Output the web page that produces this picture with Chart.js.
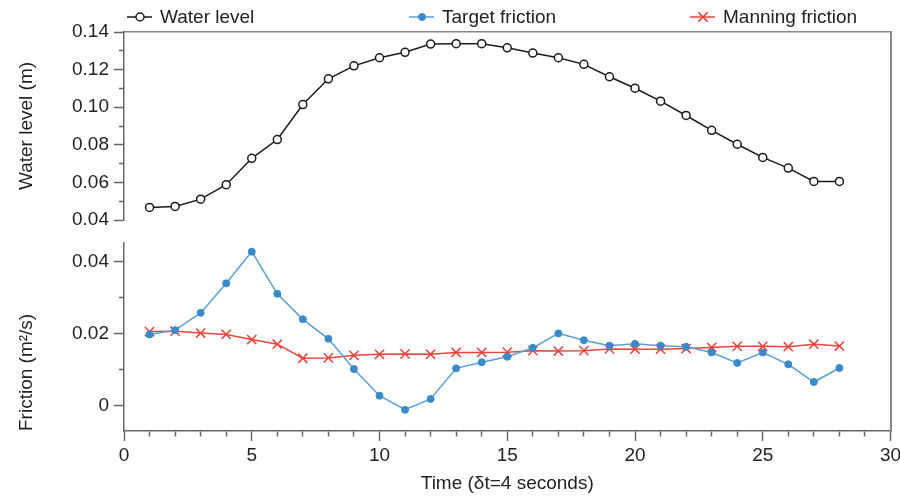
<!DOCTYPE html>
<html><head><meta charset="utf-8">
<script src="https://cdn.jsdelivr.net/npm/chart.js@4/dist/chart.umd.min.js"></script>
<style>html,body{margin:0;padding:0;background:#fff;}#wrap{width:900px;height:496px;position:relative;}</style>
</head><body><div id="wrap"><canvas id="c"></canvas></div>
<script>
const timeSteps = [1,2,3,4,5,6,7,8,9,10,11,12,13,14,15,16,17,18,19,20,21,22,23,24,25,26,27,28];
const waterLevel = [0.0467,0.0472,0.0511,0.0588,0.0728,0.0828,0.1014,0.1151,0.1220,0.1263,0.1292,0.1336,0.1338,0.1338,0.1316,0.1288,0.1263,0.1228,0.1162,0.1101,0.1032,0.0956,0.0877,0.0803,0.0733,0.0676,0.0605,0.0605];
const targetFriction = [0.0198,0.0210,0.0258,0.0340,0.0428,0.0311,0.0240,0.0186,0.0102,0.0028,-0.0011,0.0019,0.0104,0.0121,0.0136,0.0161,0.0201,0.0182,0.0167,0.0172,0.0167,0.0164,0.0148,0.0119,0.0148,0.0115,0.0066,0.0105];
const manningFriction = [0.0206,0.0207,0.0202,0.0198,0.0184,0.0171,0.0132,0.0133,0.0140,0.0143,0.0144,0.0143,0.0148,0.0148,0.0149,0.0153,0.0152,0.0153,0.0158,0.0157,0.0157,0.0159,0.0162,0.0165,0.0165,0.0164,0.0171,0.0166];
const seriesNames = ['Water level','Target friction','Manning friction'];
const waterTickValues = [0.04,0.05,0.06,0.07,0.08,0.09,0.10,0.11,0.12,0.13,0.14];
const waterTickLabels = ['0.04','','0.06','','0.08','','0.10','','0.12','','0.14'];
const frictionTickValues = [0,0.01,0.02,0.03,0.04];
const frictionTickLabels = ['0','','0.02','','0.04'];
const timeRange = [0, 30];
const waterRange = [0.04, 0.14];
const frictionRange = [-0.007, 0.0452];
const axisTitles = {x: 'Time (δt=4 seconds)', water: 'Water level (m)', friction: 'Friction (m²/s)'};

const FONT = '"Liberation Sans", Arial, Helvetica, sans-serif';
Chart.defaults.font.family = FONT;
Chart.defaults.font.size = 19;
Chart.defaults.color = '#222';
const AX = '#666';

const xy = (arr) => timeSteps.map((t, i) => ({x: t, y: arr[i]}));

function leftAxis(range, values, labels, title, weight, titleAlign) {
  return {
    type: 'linear', position: 'left', stack: 'panels', stackWeight: weight,
    min: range[0], max: range[1],
    afterBuildTicks: (s) => { s.ticks = values.map(v => ({value: v})); },
    afterFit: (s) => { s.width = 124; s.paddingTop = 0; s.paddingBottom = 0; },
    ticks: {padding: 5, autoSkip: false, callback: (v, i) => labels[i], color: '#222'},
    grid: {display: true, drawOnChartArea: false, tickLength: 10, tickColor: AX, tickWidth: 1.5,
      tickBorderDash: (c) => (labels[c.index] === '' ? [5, 5] : []),
      tickBorderDashOffset: (c) => (labels[c.index] === '' ? 5 : 0)},
    border: {display: true, color: AX, width: 1.5},
    title: {display: true, text: title, align: titleAlign, padding: {top: 15, bottom: 0}, color: '#222'}
  };
}

const rowLegend = {
  id: 'rowLegend',
  afterDraw(chart) {
    const ctx = chart.ctx;
    const xs = [127, 409, 690];
    const y = 17;
    ctx.save();
    chart.data.datasets.forEach((ds, i) => {
      const x = xs[i];
      ctx.strokeStyle = ds.borderColor;
      ctx.lineWidth = 1.5;
      ctx.setLineDash([]);
      ctx.beginPath(); ctx.moveTo(x, y); ctx.lineTo(x + 25, y); ctx.stroke();
      ctx.fillStyle = ds.pointBackgroundColor;
      ctx.strokeStyle = ds.pointBorderColor;
      ctx.lineWidth = ds.pointBorderWidth;
      Chart.helpers.drawPoint(ctx, {pointStyle: ds.pointStyle, radius: ds.pointRadius, rotation: 0, borderWidth: ds.pointBorderWidth}, x + 13, y);
      ctx.fillStyle = '#222';
      ctx.font = '19px ' + FONT;
      ctx.textBaseline = 'middle';
      ctx.textAlign = 'left';
      ctx.fillText(ds.label, x + 33, y + 1);
    });
    ctx.restore();
  }
};

new Chart(document.getElementById('c'), {
  type: 'line',
  data: {
    datasets: [
      {label: seriesNames[0], data: xy(waterLevel), yAxisID: 'yW', xAxisID: 'x',
        borderColor: '#1a1a1a', borderWidth: 1.5, pointStyle: 'circle', pointRadius: 4,
        pointBackgroundColor: '#fff', pointBorderColor: '#1a1a1a', pointBorderWidth: 1.5, tension: 0},
      {label: seriesNames[1], data: xy(targetFriction), yAxisID: 'yF', xAxisID: 'x',
        borderColor: '#5a9fd4', borderWidth: 1.5, pointStyle: 'circle', pointRadius: 3.5,
        pointBackgroundColor: '#3a8ac8', pointBorderColor: '#3a8ac8', pointBorderWidth: 1, tension: 0},
      {label: seriesNames[2], data: xy(manningFriction), yAxisID: 'yF', xAxisID: 'x',
        borderColor: '#e8443c', borderWidth: 1.5, pointStyle: 'crossRot', pointRadius: 6.5,
        pointBackgroundColor: '#e8443c', pointBorderColor: '#e8443c', pointBorderWidth: 1.5, tension: 0}
    ]
  },
  options: {
    responsive: true, maintainAspectRatio: false, animation: false,
    layout: {padding: 0},
    plugins: {legend: {display: false}, tooltip: {enabled: false}},
    scales: {
      x: {
        type: 'linear', position: 'bottom', min: timeRange[0], max: timeRange[1],
        afterFit: (s) => { s.height = 65; s.paddingLeft = 0; s.paddingRight = 0; },
        ticks: {stepSize: 1, autoSkip: false, maxRotation: 0, padding: 3,
          callback: (v) => (v % 5 === 0 ? String(v) : '')},
        grid: {display: true, drawOnChartArea: false, tickLength: 10, tickColor: AX, tickWidth: 1.5,
          tickBorderDash: (c) => (c.tick && c.tick.value % 5 !== 0 ? [5, 20] : []),
          tickBorderDashOffset: 0},
        border: {display: true, color: AX, width: 1.5},
        title: {display: true, text: axisTitles.x, padding: {top: 0, bottom: 1}, color: '#222'}
      },
      xT: {
        type: 'linear', position: 'top', min: timeRange[0], max: timeRange[1],
        afterFit: (s) => { s.height = 32; s.paddingLeft = 0; s.paddingRight = 0; },
        ticks: {display: false}, grid: {display: false},
        border: {display: true, color: '#888', width: 1.5}
      },
      yF: leftAxis(frictionRange, frictionTickValues, frictionTickLabels, axisTitles.friction, 188, 'start'),
      ySp: {
        type: 'linear', position: 'left', stack: 'panels', stackWeight: 23,
        afterFit: (s) => { s.width = 0; s.paddingTop = 0; s.paddingBottom = 0; },
        ticks: {display: false}, grid: {display: false}, border: {display: false}
      },
      yW: leftAxis(waterRange, waterTickValues, waterTickLabels, axisTitles.water, 188, 'center'),
      yR: {
        type: 'linear', position: 'right',
        afterFit: (s) => { s.width = 9.5; s.paddingTop = 0; s.paddingBottom = 0; },
        ticks: {display: false}, grid: {display: false},
        border: {display: true, color: '#888', width: 2}
      }
    }
  },
  plugins: [rowLegend]
});
</script></body></html>
